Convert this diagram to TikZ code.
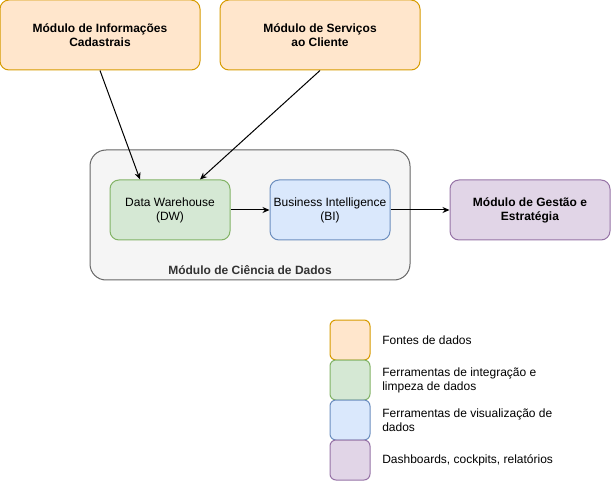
\documentclass[tikz,border=0pt]{standalone}
\usepackage{fontspec}
\setmainfont{Liberation Sans}
\usetikzlibrary{arrows.meta}
\newcommand{\px}{0.75pt}
\definecolor{fonteFill}{HTML}{FFE6CC}
\definecolor{fonteLine}{HTML}{D79B00}
\definecolor{integFill}{HTML}{D5E8D4}
\definecolor{integLine}{HTML}{82B366}
\definecolor{visuFill}{HTML}{DAE8FC}
\definecolor{visuLine}{HTML}{6C8EBF}
\definecolor{dashFill}{HTML}{E1D5E7}
\definecolor{dashLine}{HTML}{9673A6}
\definecolor{cienFill}{HTML}{F5F5F5}
\definecolor{cienLine}{HTML}{666666}
\definecolor{cienText}{HTML}{333333}

\begin{document}
\begin{tikzpicture}[x=\px,y=-\px,
    every node/.style={font=\fontsize{9}{10.5}\selectfont},
    block/.style={rectangle,rounded corners=9*\px,line width=\px,align=center,inner sep=0pt},
    legbox/.style={rectangle,rounded corners=6*\px,line width=\px,minimum size=40*\px,inner sep=0pt},
    legtext/.style={anchor=west,align=left,inner sep=0pt}]
                \useasboundingbox (0,0) rectangle (611,481);

                % modulo de ciencia de dados (fundo)
                \node[block,rounded corners=16*\px,fill=cienFill,draw=cienLine,
                    minimum width=320*\px,minimum height=130*\px] (cien) at (250,215) {};
                \node[text=cienText,inner sep=0pt] (cienlabel) at (250,270) {\textbf{Módulo de Ciência de Dados}};

                \begin{scope}[every node/.append style={block,minimum height=70*\px}]
                    \node[fill=fonteFill,draw=fonteLine,minimum width=200*\px] (info) at (100,35)
                        {\textbf{Módulo de Informações}\\\textbf{Cadastrais}};
                    \node[fill=fonteFill,draw=fonteLine,minimum width=200*\px] (serv) at (320,35)
                        {\textbf{Módulo de Serviços}\\\textbf{ao Cliente}};
                \end{scope}

                \begin{scope}[every node/.append style={block,minimum height=60*\px}]
                    \node[fill=integFill,draw=integLine,minimum width=120*\px] (dw) at (170,210)
                        {Data Warehouse\\(DW)};
                    \node[fill=visuFill,draw=visuLine,minimum width=120*\px] (bi) at (330,210)
                        {Business Intelligence\\(BI)};
                    \node[fill=dashFill,draw=dashLine,minimum width=160*\px] (gest) at (530,210)
                        {\textbf{Módulo de Gestão e}\\\textbf{Estratégia}};
                \end{scope}

                \begin{scope}[>={Stealth[black,length=7*\px,width=6*\px]},
                    every edge/.style={draw=black,line width=\px}]
                    \path [->] (info.south) edge node {} ([xshift=-30*\px]dw.north);
                    \path [->] (serv.south) edge node {} ([xshift=30*\px]dw.north);

                    \path [->] (dw.east) edge node {} (bi.west);
                    \path [->] (bi.east) edge node {} (gest.west);
                \end{scope}

                % legenda
                \node[legbox,fill=fonteFill,draw=fonteLine] (leg1) at (350,340) {};
                \node[legbox,fill=integFill,draw=integLine] (leg2) at (350,380) {};
                \node[legbox,fill=visuFill,draw=visuLine] (leg3) at (350,420) {};
                \node[legbox,fill=dashFill,draw=dashLine] (leg4) at (350,460) {};

                \node[legtext] (leg1text) at (382,340) {Fontes de dados};
                \node[legtext] (leg2text) at (382,380) {Ferramentas de integração e\\limpeza de dados};
                \node[legtext] (leg3text) at (382,420) {Ferramentas de visualização de\\dados};
                \node[legtext] (leg4text) at (382,460) {Dashboards, cockpits, relatórios};
            \end{tikzpicture}
\end{document}
